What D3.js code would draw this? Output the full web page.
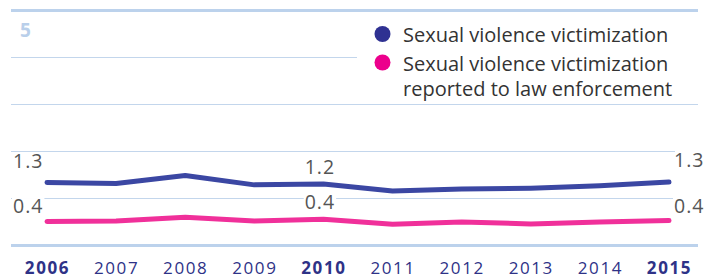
<!DOCTYPE html>
<html>
<head>
<meta charset="utf-8">
<script src="https://cdn.jsdelivr.net/npm/d3@7"></script>
<style>
  body { margin: 0; background: #fff; }
  text { font-family: "Open Sans", sans-serif; }
</style>
</head>
<body>
<div class="chart"></div>
<script>
// data
var years = [2006, 2007, 2008, 2009, 2010, 2011, 2012, 2013, 2014, 2015];
var boldYears = [2006, 2010, 2015];
var victimization = [1.34, 1.32, 1.49, 1.29, 1.31, 1.16, 1.20, 1.22, 1.27, 1.35];
var reported = [0.51, 0.52, 0.60, 0.52, 0.56, 0.45, 0.50, 0.46, 0.50, 0.53];
var victimLabels = ["1.3", "1.2", "1.3"];
var reportedLabels = ["0.4", "0.4", "0.4"];
var labelYears = [2006, 2010, 2015];
var seriesNames = ["Sexual violence victimization",
                   "Sexual violence victimization\nreported to law enforcement"];
var colors = ["#3b47a3", "#f0309a"];

var svgWidth = 717;
var svgHeight = 279;

var svg = d3.select(".chart")
  .append("svg")
  .attr("width", svgWidth)
  .attr("height", svgHeight);

var xScale = d3.scaleLinear()
  .domain(d3.extent(years))
  .range([47, 669]);

var yScale = d3.scaleLinear()
  .domain([0, 5])
  .range([245.5, 10.5]);

// gridlines (some are cut short by the legend / end labels)
var grid = [
  { v: 1, x2: 675 },
  { v: 2, x2: 675 },
  { v: 3, x2: 698 },
  { v: 4, x2: 357 }
];
svg.selectAll(".grid")
  .data(grid)
  .enter()
  .append("line")
  .attr("class", "grid")
  .attr("x1", 11)
  .attr("x2", d => d.x2)
  .attr("y1", d => yScale(d.v))
  .attr("y2", d => yScale(d.v))
  .attr("stroke", "#c3d6ec")
  .attr("stroke-width", 1);

// top and bottom rules
[0, 5].forEach(function (v) {
  svg.append("line")
    .attr("x1", 11)
    .attr("x2", 698)
    .attr("y1", yScale(v))
    .attr("y2", yScale(v))
    .attr("stroke", "#bcd2ec")
    .attr("stroke-width", 3);
});

svg.append("text")
  .attr("x", 20)
  .attr("y", yScale(5) + 26)
  .attr("fill", "#b9cfea")
  .style("font-weight", "bold")
  .style("font-size", "19px")
  .text("5");

// x axis
var xAxis = d3.axisBottom(xScale)
  .tickValues(years)
  .tickFormat(d3.format("d"))
  .tickSize(0)
  .tickPadding(0);

var axisG = svg.append("g")
  .attr("transform", "translate(0, 273.5)")
  .call(xAxis);
axisG.select(".domain").remove();
axisG.selectAll("text")
  .attr("dy", "0")
  .attr("fill", "#2e3287")
  .style("font-family", "'Open Sans', sans-serif")
  .style("font-size", "17px")
  .style("letter-spacing", "1.6px")
  .style("font-weight", d => boldYears.indexOf(d) >= 0 ? "bold" : "normal");

// lines
var line = d3.line()
  .x((d, i) => xScale(years[i]))
  .y(d => yScale(d))
  .curve(d3.curveLinear);

[reported, victimization].forEach(function (series, k) {
  svg.append("path")
    .datum(series)
    .attr("d", line)
    .attr("fill", "none")
    .attr("stroke", colors[1 - k])
    .attr("stroke-width", 5)
    .attr("stroke-linecap", "round")
    .attr("stroke-linejoin", "round");
});

// value labels with white backing
function valueLabel(x, y, txt, anchor) {
  var t = svg.append("text")
    .attr("x", x)
    .attr("y", y)
    .attr("text-anchor", anchor)
    .attr("fill", "#555")
    .style("font-size", "19.5px")
    .style("letter-spacing", "1px")
    .text(txt);
  var bb = t.node().getBBox();
  svg.insert("rect", function () { return t.node(); })
    .attr("x", bb.x - 1)
    .attr("y", y - 15)
    .attr("width", bb.width + 2)
    .attr("height", 16)
    .attr("fill", "#fff");
}

labelYears.forEach(function (yr, j) {
  var i = years.indexOf(yr);
  var x = xScale(yr);
  if (j === 0) {
    valueLabel(13, yScale(victimization[i]) - 15, victimLabels[j], "start");
    valueLabel(13, yScale(reported[i]) - 8.5, reportedLabels[j], "start");
  } else if (j === labelYears.length - 1) {
    valueLabel(x + 5, yScale(victimization[i]) - 15, victimLabels[j], "start");
    valueLabel(x + 5, yScale(reported[i]) - 8, reportedLabels[j], "start");
  } else {
    valueLabel(x - 3.5, yScale(victimization[i]) - 10, victimLabels[j], "middle");
    valueLabel(x - 3.5, yScale(reported[i]) - 10, reportedLabels[j], "middle");
  }
});

// legend
var legend = svg.append("g");
var legendY = [34, 62.5];
seriesNames.forEach(function (name, k) {
  legend.append("circle")
    .attr("cx", 382.5)
    .attr("cy", legendY[k])
    .attr("r", 8)
    .attr("fill", k === 0 ? "#2f3192" : "#ec008c");
  var lines = name.split("\n");
  lines.forEach(function (l, n) {
    legend.append("text")
      .attr("fill", "#333")
      .style("font-size", "20px")
      .attr("x", 403)
      .attr("y", legendY[k] + 8 + n * 25)
      .text(l);
  });
});
</script>
</body>
</html>
